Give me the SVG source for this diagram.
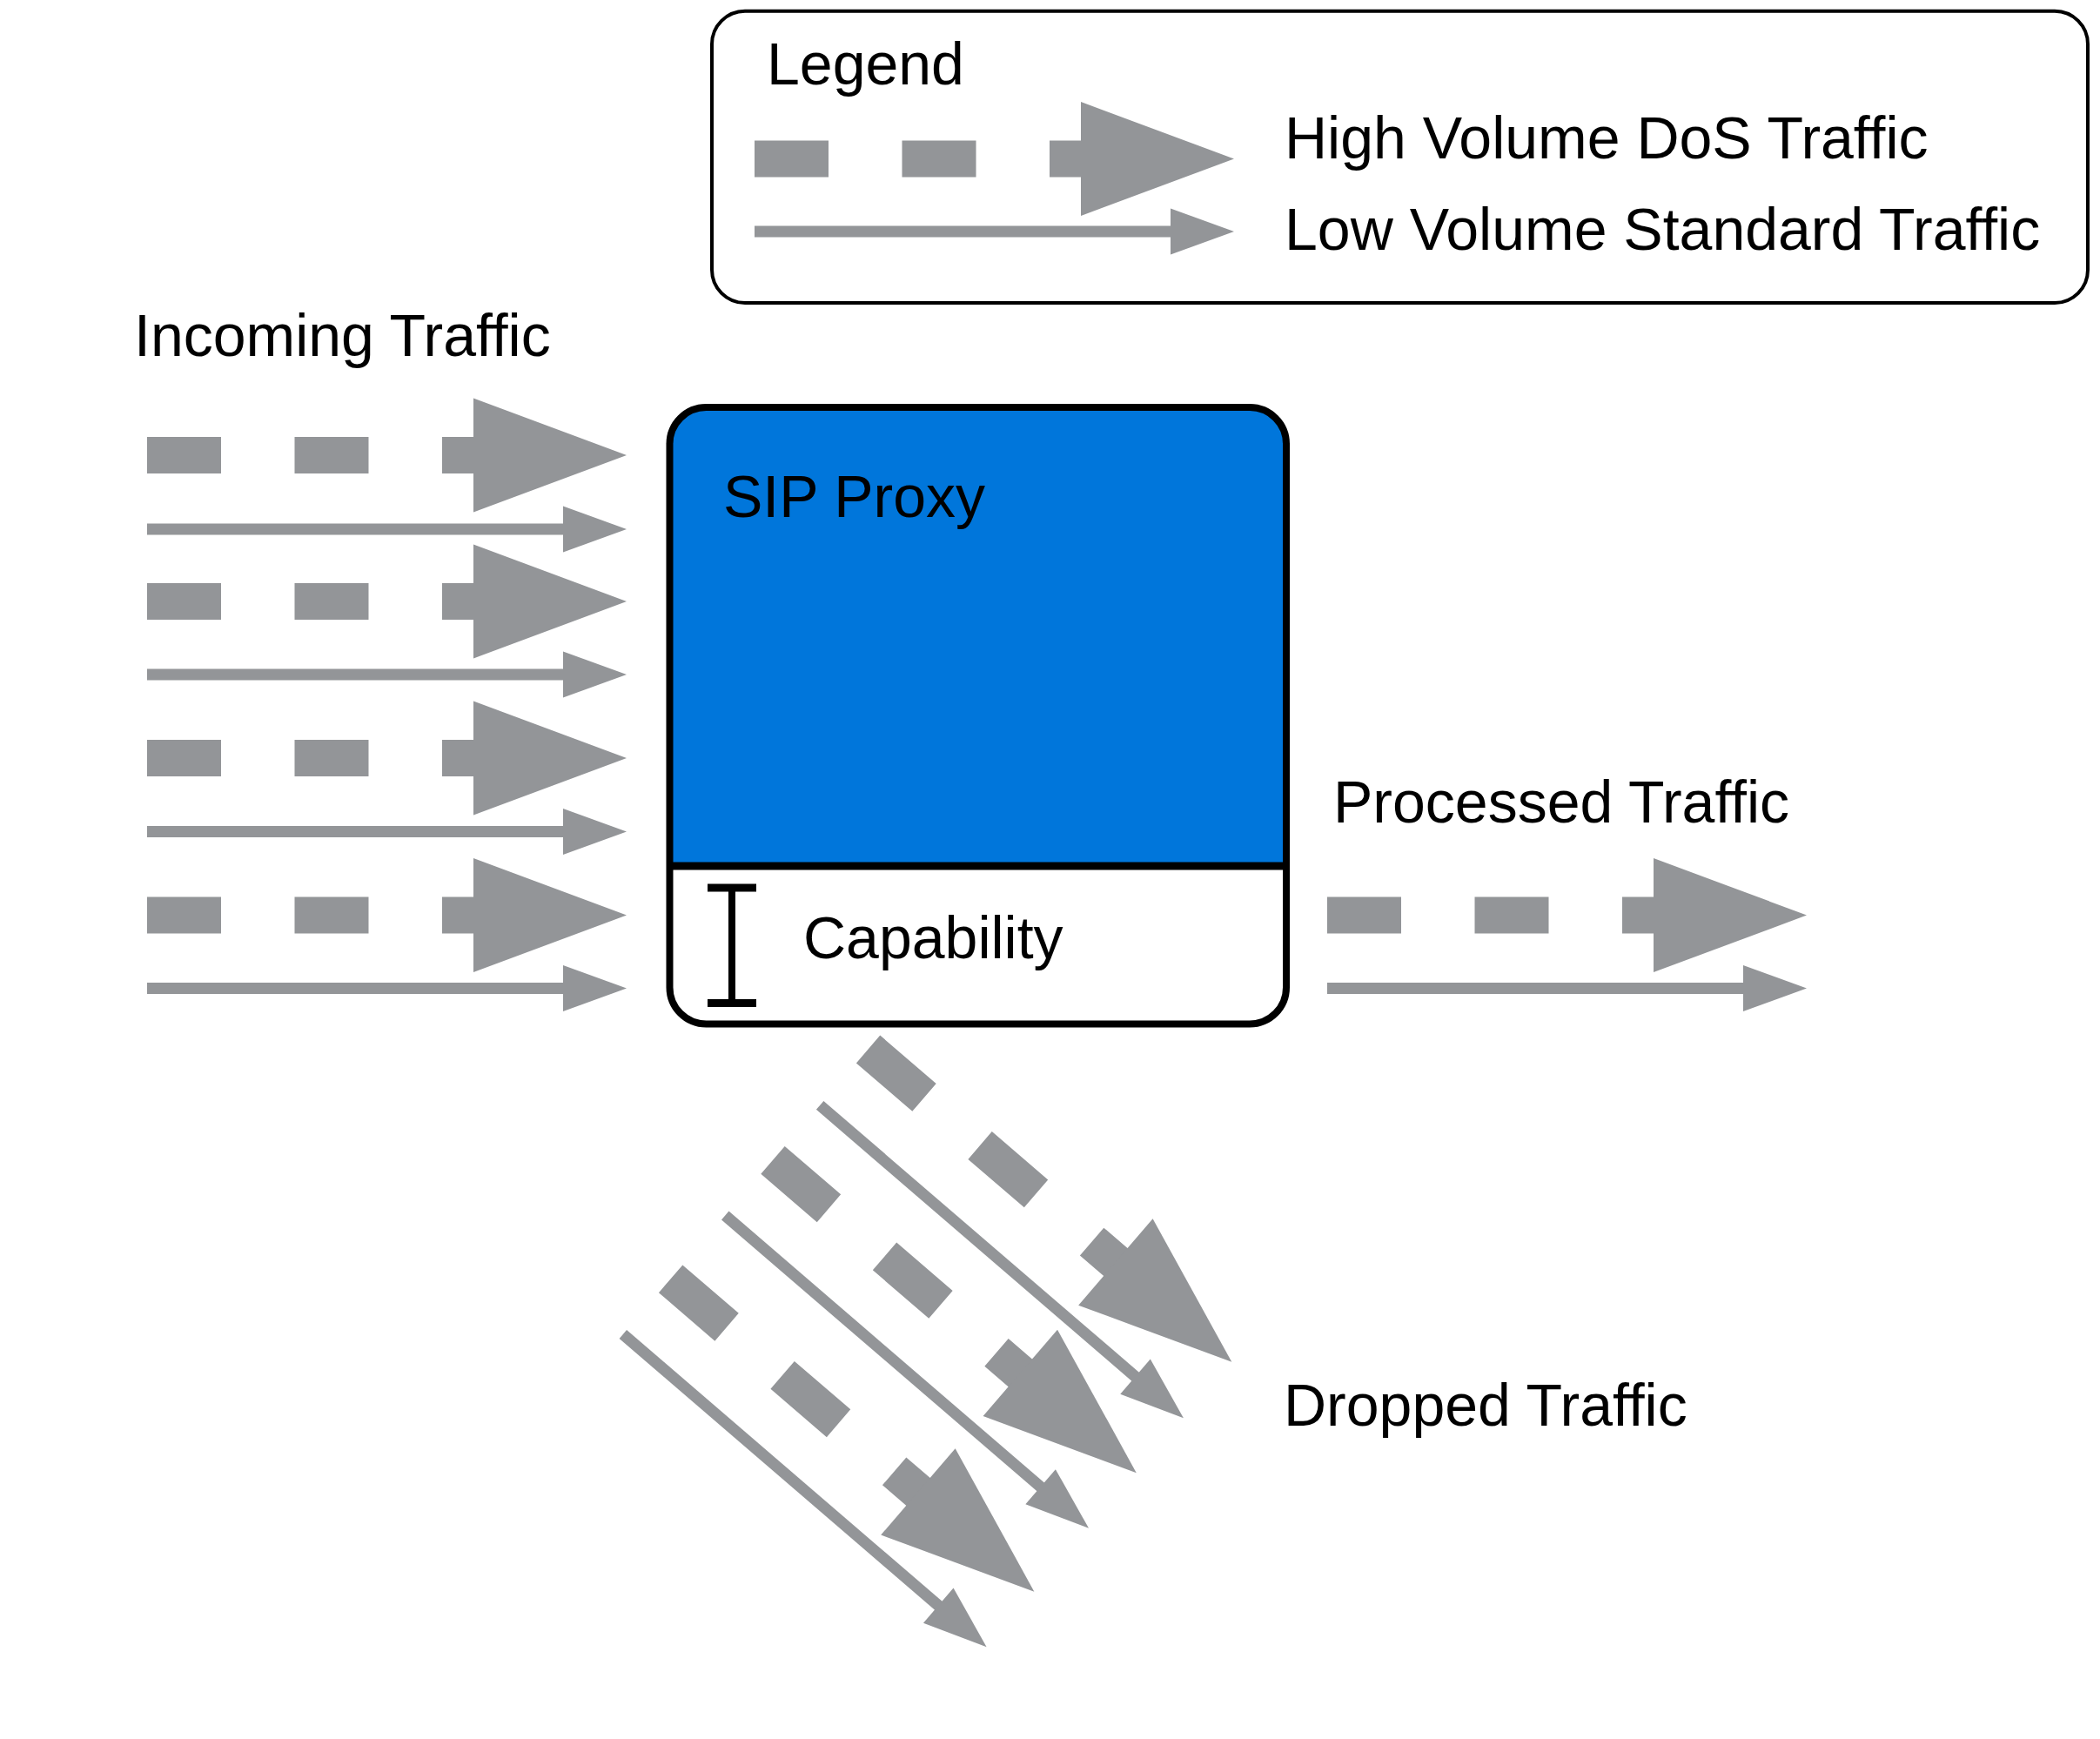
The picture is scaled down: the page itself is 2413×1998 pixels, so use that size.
<svg xmlns="http://www.w3.org/2000/svg" xmlns:xlink="http://www.w3.org/1999/xlink" width="2413" height="1998" viewBox="0 0 2413 1998">
  <style>
    .lbl { font-family: "Liberation Sans", Arial, Helvetica, sans-serif; font-size: 68px; fill: #000000; }
    .gray { fill: #939598; }
    .dash { stroke: #939598; stroke-width: 42; stroke-dasharray: 85 84.5; fill: none; }
    .thin { stroke: #939598; stroke-width: 13; fill: none; }
  </style>
  <defs>
    <g id="dos">
      <line class="dash" x1="0" y1="0" x2="391" y2="0"/>
      <polygon class="gray" points="375,-65.5 551,0 375,65.5"/>
    </g>
    <g id="std">
      <line class="thin" x1="0" y1="0" x2="490" y2="0"/>
      <polygon class="gray" points="478,-26.5 551,0 478,26.5"/>
    </g>
  </defs>
  <rect x="0" y="0" width="2413" height="1998" fill="#ffffff"/>

  <g id="legend">
    <rect x="818" y="12.7" width="1581" height="335.3" rx="38" ry="38" fill="#ffffff" stroke="#000000" stroke-width="4"/>
    <text class="lbl" x="881" y="97">Legend</text>
    <use xlink:href="#dos" href="#dos" x="867" y="182.5"/>
    <use xlink:href="#std" href="#std" x="867" y="266"/>
    <text class="lbl" x="1476" y="182">High Volume DoS Traffic</text>
    <text class="lbl" x="1476" y="287">Low Volume Standard Traffic</text>
  </g>

  <g id="sip-proxy">
    <path d="M 769.5 995 V 510 A 42 42 0 0 1 811.5 468 H 1436 A 42 42 0 0 1 1478 510 V 995 Z" fill="#0076DB"/>
    <line x1="769.5" y1="995" x2="1478" y2="995" stroke="#000000" stroke-width="9"/>
    <rect x="769.5" y="468" width="708.5" height="708.5" rx="42" ry="42" fill="none" stroke="#000000" stroke-width="8"/>
    <text class="lbl" x="831" y="594">SIP Proxy</text>
    <g id="capability-marker">
      <line x1="841" y1="1016" x2="841" y2="1156" stroke="#000000" stroke-width="8"/>
      <line x1="813" y1="1020" x2="869" y2="1020" stroke="#000000" stroke-width="9"/>
      <line x1="813" y1="1152.5" x2="869" y2="1152.5" stroke="#000000" stroke-width="9"/>
    </g>
    <text class="lbl" x="923" y="1101">Capability</text>
  </g>

  <g id="incoming-label">
    <text class="lbl" x="154" y="409">Incoming Traffic</text>
  </g>
  <g id="processed-label">
    <text class="lbl" x="1532" y="945">Processed Traffic</text>
  </g>
  <g id="dropped-label">
    <text class="lbl" x="1475" y="1638">Dropped Traffic</text>
  </g>

  <g id="connectors">
    <g id="incoming">
      <use xlink:href="#dos" href="#dos" x="169" y="523"/>
      <use xlink:href="#std" href="#std" x="169" y="608"/>
      <use xlink:href="#dos" href="#dos" x="169" y="691"/>
      <use xlink:href="#std" href="#std" x="169" y="775"/>
      <use xlink:href="#dos" href="#dos" x="169" y="871"/>
      <use xlink:href="#std" href="#std" x="169" y="955.5"/>
      <use xlink:href="#dos" href="#dos" x="169" y="1051.5"/>
      <use xlink:href="#std" href="#std" x="169" y="1135.5"/>
    </g>
    <g id="processed">
      <use xlink:href="#dos" href="#dos" x="1525" y="1051.5"/>
      <use xlink:href="#std" href="#std" x="1525" y="1135.5"/>
    </g>
    <g id="dropped" transform="translate(1415.3 1564.8) rotate(40.7)">
      <use xlink:href="#dos" href="#dos" x="-551" y="0"/>
      <use xlink:href="#std" href="#std" x="-551" y="85"/>
      <use xlink:href="#dos" href="#dos" x="-551" y="168"/>
      <use xlink:href="#std" href="#std" x="-551" y="252"/>
      <use xlink:href="#dos" href="#dos" x="-551" y="348"/>
      <use xlink:href="#std" href="#std" x="-551" y="432"/>
    </g>
  </g>
</svg>
